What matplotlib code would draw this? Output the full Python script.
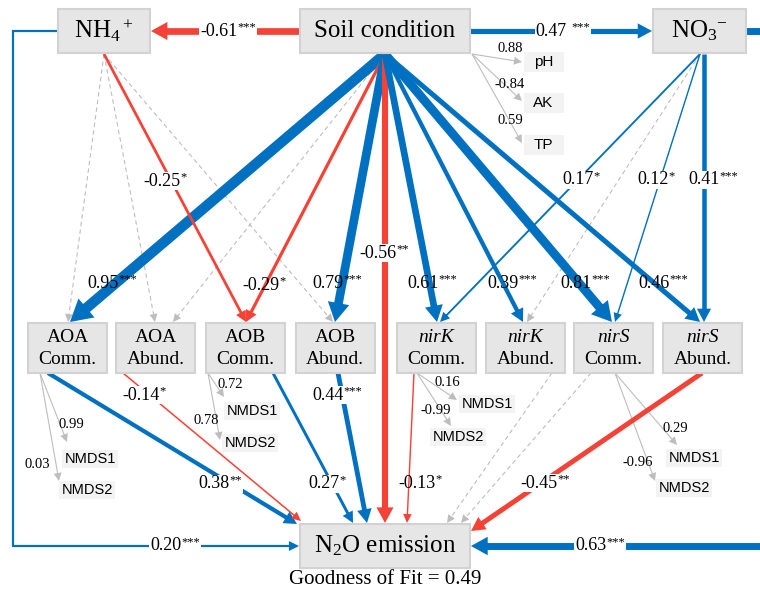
import numpy as np
import matplotlib.pyplot as plt
from matplotlib.patches import Rectangle, Polygon

plt.rcParams['mathtext.fontset'] = 'custom'
plt.rcParams['mathtext.rm'] = 'Liberation Serif'
plt.rcParams['mathtext.it'] = 'Liberation Serif:italic'
plt.rcParams['mathtext.bf'] = 'Liberation Serif:bold'

BLUE = '#0070c0'
RED = '#f44336'
GREY = '#bdbdbd'

# ---- data ----
# top / bottom nodes
top_keys = ['nh4', 'soil', 'no3', 'n2o']
top_labels = ['NH$_4{}^+$', 'Soil condition', 'NO$_3{}^{-}$', 'N$_2$O emission']

# middle row nodes
mid_keys = ['aoa_c', 'aoa_a', 'aob_c', 'aob_a', 'nirk_c', 'nirk_a', 'nirs_c', 'nirs_a']
mid_line1 = ['AOA', 'AOA', 'AOB', 'AOB', 'nirK', 'nirK', 'nirS', 'nirS']
mid_line2 = ['Comm.', 'Abund.', 'Comm.', 'Abund.', 'Comm.', 'Abund.', 'Comm.', 'Abund.']

# structural paths (None = not significant)
path_src = ['soil', 'soil', 'soil', 'soil', 'soil', 'soil', 'soil', 'soil', 'soil', 'soil', 'soil',
            'nh4', 'nh4', 'nh4', 'nh4', 'nh4',
            'no3', 'no3', 'no3', 'no3', 'no3',
            'aoa_c', 'aoa_a', 'aob_c', 'aob_a', 'nirk_c', 'nirk_a', 'nirs_c', 'nirs_a']
path_dst = ['nh4', 'no3', 'aoa_c', 'aoa_a', 'aob_c', 'aob_a', 'n2o', 'nirk_c', 'nirk_a', 'nirs_c', 'nirs_a',
            'aoa_c', 'aoa_a', 'aob_c', 'aob_a', 'n2o',
            'nirk_c', 'nirk_a', 'nirs_c', 'nirs_a', 'n2o',
            'n2o', 'n2o', 'n2o', 'n2o', 'n2o', 'n2o', 'n2o', 'n2o']
path_coef = [-0.61, 0.47, 0.95, None, -0.29, 0.79, -0.56, 0.61, 0.39, 0.81, 0.46,
             None, None, -0.25, None, 0.20,
             0.17, None, 0.12, 0.41, 0.63,
             0.38, -0.14, 0.27, 0.44, -0.13, None, None, -0.45]
path_sig = ['***', ' ***', '***', '', '*', '***', '**', '***', '***', '***', '***',
            '', '', '*', '', '***',
            '*', '', '*', '***', '***',
            '**', '*', '*', '***', '*', '', '', '**']

# indicator loadings
soil_ind = ['pH', 'AK', 'TP']
soil_load = [0.88, -0.84, 0.59]
comm_keys = ['aoa_c', 'aob_c', 'nirk_c', 'nirs_c']
nmds1_load = [0.99, 0.72, 0.16, 0.29]
nmds2_load = [0.03, 0.78, -0.99, -0.96]

gof = 0.49

# ---- layout (pixels) ----
top_box = {'nh4': (58, 9, 92, 44), 'soil': (300, 9, 170, 44),
           'no3': (653, 9, 93, 44), 'n2o': (300, 524, 170, 44)}
mid_x = [67.5, 155.5, 245.5, 335, 436, 525.5, 613.5, 702.5]
mid_w, mid_h, mid_top = 79, 50, 323

# start, tip, label position, via points
path_geom = [
    ((300, 31), (151, 31), (228, 31), []),
    ((470, 31), (652, 31), (563, 31), []),
    ((385, 54), (70, 322), (112, 283), []),
    ((385, 54), (173, 322), None, []),
    ((385, 54), (246, 322), (264, 285), []),
    ((385, 54), (335, 322), (337, 283), []),
    ((385, 54), (385, 523), (384, 253), []),
    ((385, 54), (437, 322), (432, 283), []),
    ((385, 54), (523, 322), (512, 283), []),
    ((385, 54), (612, 322), (585, 283), []),
    ((385, 54), (700, 322), (663, 283), []),
    ((104, 54), (68, 322), None, []),
    ((104, 54), (155, 322), None, []),
    ((104, 54), (246, 322), (165, 181), []),
    ((104, 54), (333, 322), None, []),
    ((58, 31), (299, 546), (175, 546), [(13, 31), (13, 546)]),
    ((700, 54), (440, 322), (581, 180), []),
    ((700, 54), (527, 322), None, []),
    ((700, 54), (615, 322), (656, 180), []),
    ((704, 54), (704, 322), (713, 180), []),
    ((746, 31), (471, 546), (600, 546), [(775, 31), (775, 546)]),
    ((48, 373), (297, 524), (220, 484), []),
    ((123, 373), (301, 521), (144, 395), []),
    ((273, 373), (353, 523), (327, 484), []),
    ((338, 373), (367, 523), (337, 395), []),
    ((414, 373), (407, 523), (420, 483), []),
    ((552, 373), (447, 523), None, []),
    ((591, 373), (461, 523), None, []),
    ((702, 373), (471, 531), (545, 483), []),
]
# labels drawn straight over their lines (no white patch)
no_bg = {2, 4, 5, 7, 8, 9, 10, 25}

soil_ind_geom = [((472, 54), (522, 62), (510, 49), (543.5, 62)),
                 ((472, 54), (522, 101), (510, 84), (543.5, 103)),
                 ((472, 54), (522, 143), (510, 121), (543.5, 145))]
# origin, tip1, lab1, box1, tip2, lab2, box2
nmds_geom = [
    ((40, 373), (67, 442), (71, 424), (90, 459), (59, 481), (37, 465), (87, 490)),
    ((208, 373), (224, 397), (230, 385), (252, 411), (220, 440), (206, 421), (250, 443)),
    ((417, 373), (457, 400), (447, 382), (487, 404), (451, 426), (436, 410), (458, 437)),
    ((615, 373), (677, 445), (675, 429), (694, 458), (655, 481), (638, 462), (684, 488)),
]

fig = plt.figure(figsize=(7.6, 5.95), dpi=100)
ax = fig.add_axes([0, 0, 1, 1])
ax.set_xlim(0, 760)
ax.set_ylim(595, 0)
ax.axis('off')

PX = 72 / 100  # pixel -> point


def arrow(start, tip, color, w, via=(), dashed=False, head=(None, None), z=2):
    pts = np.array([start] + list(via) + [tip], dtype=float)
    d = pts[-1] - pts[-2]
    d = d / np.hypot(*d)
    L = head[0] if head[0] else 7 + 1.4 * w
    H = head[1] if head[1] else 3 + 0.9 * w
    base = pts[-1] - d * L
    n = np.array([-d[1], d[0]])
    line = pts.copy()
    line[-1] = pts[-1] - d * L * 0.6
    ax.plot(line[:, 0], line[:, 1], color=color, lw=w * PX,
            ls=(0, (4, 3)) if dashed else '-', solid_capstyle='butt',
            solid_joinstyle='miter', dash_capstyle='butt', zorder=z)
    ax.add_patch(Polygon([pts[-1], base + n * H, base - n * H], closed=True,
                         fc=color, ec='none', zorder=z))


CHAR_W = {'-': 0.333, '.': 0.25, ' ': 0.25}


def coef_text(x, y, val, sig, bg=True, size=13, star_size=9):
    num = f'{val:.2f}'
    fs = size / PX
    sfs = star_size / PX
    gap = 0.25 * fs if sig.startswith(' ') else -0.5
    stars = sig.strip()
    num_w = sum(CHAR_W.get(ch, 0.5) for ch in num) * fs
    star_w = 0.5 * len(stars) * sfs
    total = num_w + gap + star_w
    left = x - total / 2
    if bg:
        ax.add_patch(Rectangle((left - 1, y - 9), total + 2, 18, fc='white', ec='none', zorder=5))
    ax.text(left, y, num, ha='left', va='center', fontsize=size,
            family='Liberation Serif', zorder=6)
    if stars:
        ax.text(left + num_w + gap, y - 4, stars, ha='left', va='center',
                fontsize=star_size, family='Liberation Serif', zorder=6)


# structural paths
for i, ((s, t, lab, via), c, sig) in enumerate(zip(path_geom, path_coef, path_sig)):
    if c is None:
        arrow(s, t, GREY, 1.1, via=via, dashed=True, head=(8, 4), z=1)
    else:
        w = max(1.4, 11 * abs(c))
        arrow(s, t, BLUE if c > 0 else RED, w, via=via, z=3)
        coef_text(lab[0], lab[1], c, sig, bg=i not in no_bg)

# soil indicators
for name, val, (o, tip, lab, bc) in zip(soil_ind, soil_load, soil_ind_geom):
    arrow(o, tip, GREY, 1.1, head=(8, 4), z=1)
    ax.add_patch(Rectangle((bc[0] - 20, bc[1] - 10), 40, 20, fc='#f3f3f3', ec='none', zorder=4))
    ax.text(bc[0], bc[1], name, ha='center', va='center', fontsize=11,
            family='Liberation Sans', zorder=5)
    ax.text(lab[0], lab[1], f'{val:.2f}', ha='center', va='center', fontsize=10.5,
            family='Liberation Serif', zorder=6)

# community NMDS loadings
for v1, v2, (o, t1, l1, b1, t2, l2, b2) in zip(nmds1_load, nmds2_load, nmds_geom):
    for val, tip, lab, bc, nm in [(v1, t1, l1, b1, 'NMDS1'), (v2, t2, l2, b2, 'NMDS2')]:
        arrow(o, tip, GREY, 1.1, head=(8, 4), z=1)
        ax.add_patch(Rectangle((bc[0] - 28, bc[1] - 9), 56, 18, fc='#f3f3f3', ec='none', zorder=4))
        ax.text(bc[0], bc[1], nm, ha='center', va='center', fontsize=10.5,
                family='Liberation Sans', zorder=5)
        ax.text(lab[0], lab[1], f'{val:.2f}', ha='center', va='center', fontsize=10.5,
                family='Liberation Serif', zorder=6)

# boxes
for key, lab in zip(top_keys, top_labels):
    x, y, w, h = top_box[key]
    ax.add_patch(Rectangle((x, y), w, h, fc='#e6e6e6', ec='#d2d2d2', lw=1.5, zorder=7))
    ax.text(x + w / 2, y + h / 2, lab, ha='center', va='center', fontsize=18,
            family='Liberation Serif', zorder=8)

for cx, l1, l2 in zip(mid_x, mid_line1, mid_line2):
    ax.add_patch(Rectangle((cx - mid_w / 2, mid_top), mid_w, mid_h, fc='#e6e6e6',
                           ec='#d2d2d2', lw=1.5, zorder=7))
    ax.text(cx, mid_top + 15, l1, ha='center', va='center', fontsize=14,
            family='Liberation Serif', style='italic' if l1.startswith('nir') else 'normal', zorder=8)
    ax.text(cx, mid_top + 37, l2, ha='center', va='center', fontsize=14,
            family='Liberation Serif', zorder=8)

ax.text(385, 580, f'Goodness of Fit = {gof}', ha='center', va='center', fontsize=15,
        family='Liberation Serif')

fig.savefig('out.png', dpi=100)
